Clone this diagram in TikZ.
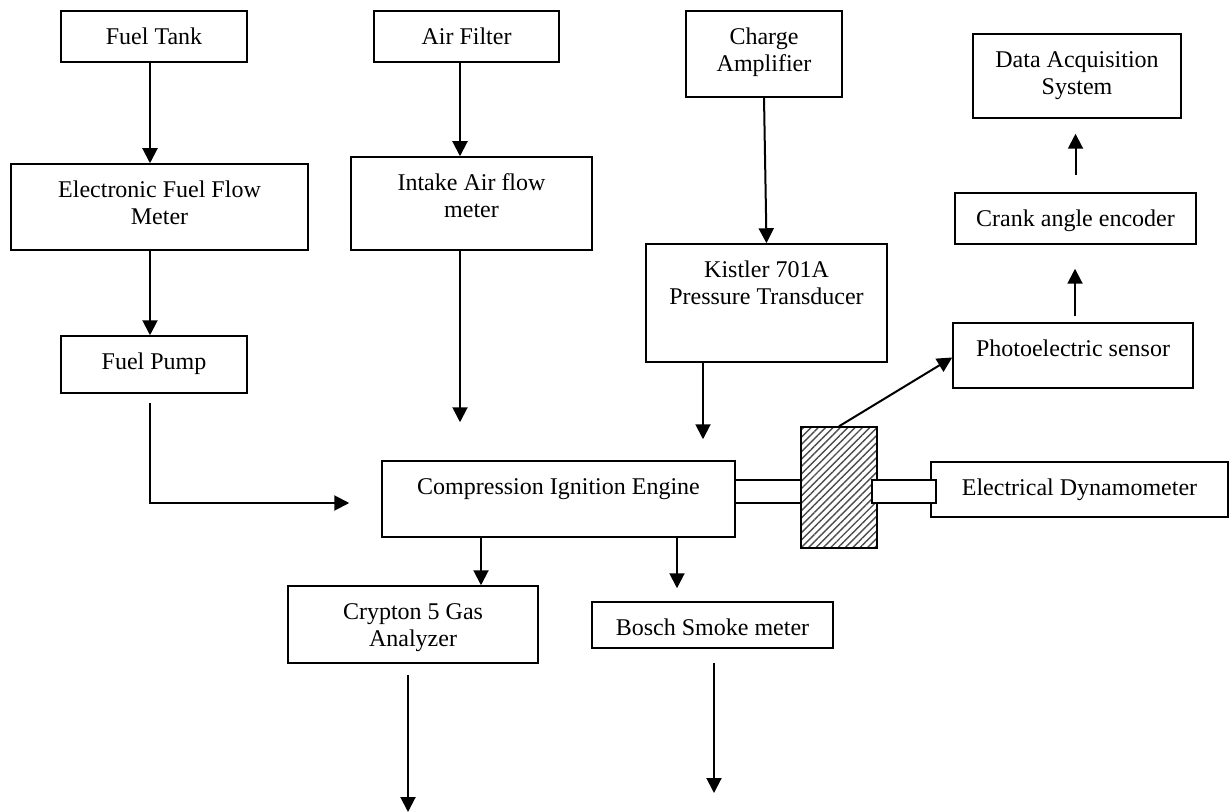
\documentclass[tikz,border=0pt]{standalone}
\usepackage{fontspec}
\setmainfont{Liberation Serif}
\usetikzlibrary{arrows.meta,patterns.meta,positioning}

\tikzset{
  blk/.style={draw, line width=0.75pt, inner sep=0pt},
  txt/.style={anchor=north, align=center, inner sep=0pt, yshift=-7.5pt, font=\fontsize{12pt}{13.5pt}\selectfont},
  arr/.style={line width=1pt, -{Triangle[width=7.5pt,length=7.5pt]}},
  shaft/.style={draw, fill=white, line width=0.75pt, inner sep=0pt, minimum height=11.5pt}
}

\begin{document}
\begin{tikzpicture}[x=0.5pt, y=-0.5pt]
\useasboundingbox (0,0) rectangle (1229,812);

% fuel side
\node[blk, minimum width=93pt, minimum height=25.5pt, label={[txt]north:\strut Fuel Tank}] (tank) at (154,36.5) {};
\node[blk, minimum width=148.5pt, minimum height=43pt, label={[txt]north:\strut Electronic Fuel Flow\\Meter}] (efm) at (159.5,207) {};
\node[blk, minimum width=93pt, minimum height=28.5pt, label={[txt]north:\strut Fuel Pump}] (pump) at (154,364.5) {};

% air side
\node[blk, minimum width=92.5pt, minimum height=25.5pt, label={[txt]north:\strut Air Filter}] (filter) at (466.5,36.5) {};
\node[blk, minimum width=120.5pt, minimum height=46.5pt, label={[txt]north:\strut Intake Air flow\\meter}] (intake) at (471.5,203.5) {};

% pressure
\node[blk, minimum width=78pt, minimum height=43pt, label={[txt]north:\strut Charge\\Amplifier}] (amp) at (764,54) {};
\node[blk, minimum width=120.5pt, minimum height=59pt, label={[txt]north:\strut Kistler 701A\\Pressure Transducer}] (kistler) at (766.5,303) {};

% engine and load
\node[blk, minimum width=176.5pt, minimum height=38pt, label={[txt]north:\strut Compression Ignition Engine}] (engine) at (558.5,499) {};
\node[shaft, minimum width=33pt] (shaftl) at (768,491.5) {};
\node[blk, minimum width=38pt, minimum height=60.5pt, pattern={Lines[angle=45,distance=2.6pt,line width=0.7pt]}, pattern color=black!70] (flywheel) at (839,487.5) {};
\node[blk, minimum width=148.5pt, minimum height=27.5pt, label={[txt]north:\strut Electrical Dynamometer}] (dyno) at (1079.5,489.5) {};
\node[shaft, minimum width=32pt] (shaftr) at (904,491.5) {};

% crank angle chain
\node[blk, minimum width=120pt, minimum height=32.5pt, label={[txt]north:\strut Photoelectric sensor}] (photo) at (1073,355.5) {};
\node[blk, minimum width=120.5pt, minimum height=25.5pt, label={[txt]north:\strut Crank angle encoder}] (crank) at (1075.5,218.5) {};
\node[blk, minimum width=104pt, minimum height=42pt, label={[txt]north:\strut Data Acquisition\\System}] (daq) at (1077,76) {};

% exhaust
\node[blk, minimum width=125pt, minimum height=38.5pt, label={[txt]north:\strut Crypton 5 Gas\\Analyzer}] (crypton) at (413,624.5) {};
\node[blk, minimum width=120.5pt, minimum height=23pt, label={[txt]north:\strut Bosch Smoke meter}] (bosch) at (712.5,625) {};
\coordinate (gasout) at (408,812);
\coordinate (smokeout) at (714,793);

% connectors
\draw[arr] ([xshift=-2pt]tank.south) -- ([xshift=-2pt]tank.south |- efm.north);
\draw[arr] ([xshift=-2pt]pump.north |- efm.south) -- ([xshift=-2pt]pump.north);
\draw[arr] ([xshift=-2pt,yshift=-4.5pt]pump.south) |- ([xshift=-16pt,yshift=-2pt]engine.west);
\draw[arr] ([xshift=-3.25pt]filter.south) -- ([xshift=-3.25pt]filter.south |- intake.north);
\draw[arr] ([xshift=-5.75pt]intake.south) -- ([xshift=-5.75pt,yshift=19pt]intake.south |- engine.north);
\draw[arr] (amp.south) -- (kistler.north);
\draw[arr] ([xshift=-31.75pt]kistler.south) -- ([xshift=-31.75pt,yshift=10.5pt]kistler.south |- engine.north);
\draw[arr] ([xshift=-38.75pt]engine.south) -- ([xshift=-38.75pt]engine.south |- crypton.north);
\draw[arr] ([xshift=59.25pt]engine.south) -- ([xshift=59.25pt,yshift=6.5pt]engine.south |- bosch.north);
\draw[arr] ([yshift=-5.5pt]crypton.south -| gasout) -- (gasout);
\draw[arr] ([yshift=-7pt]bosch.south -| smokeout) -- (smokeout);
\draw[arr] (flywheel.north) -- ([yshift=-1pt]photo.west);
\draw[arr] ([xshift=1pt,yshift=3pt]photo.north) -- ([xshift=1pt,yshift=-12pt]photo.north |- crank.south);
\draw[arr] ([yshift=8.5pt]crank.north) -- ([yshift=-7.5pt]crank.north |- daq.south);
\end{tikzpicture}
\end{document}
